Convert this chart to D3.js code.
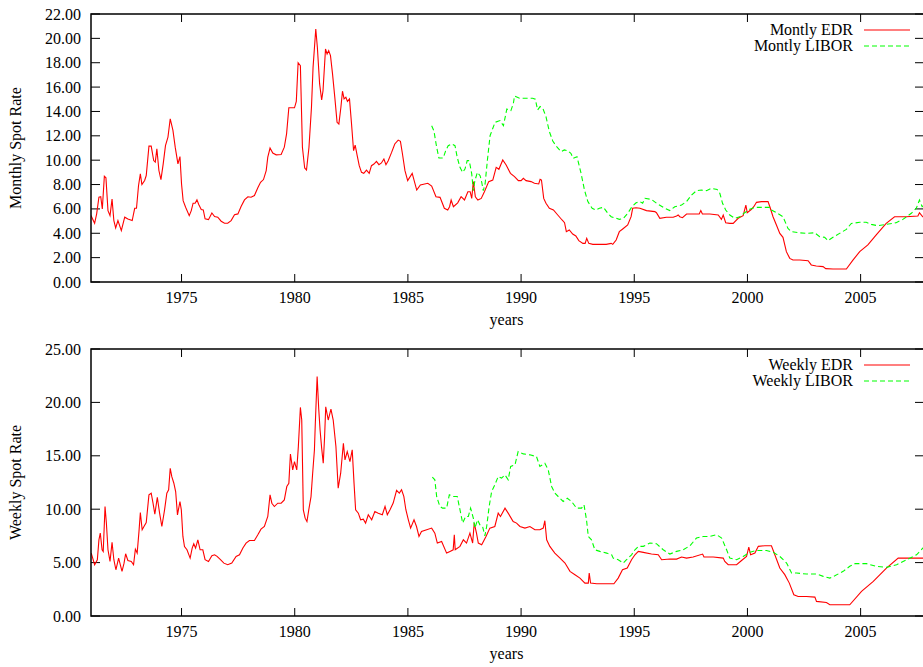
<!DOCTYPE html>
<html lang="en">
<head>
<meta charset="utf-8">
<title>Spot rates</title>
<script src="https://d3js.org/d3.v7.min.js"></script>
<style>
  body { margin: 0; background: #fff; }
  svg { display: block; }
  text { font-family: "Liberation Serif", "Times New Roman", serif; font-size: 16px; fill: #000; }
</style>
</head>
<body>
<script>
// ---- data: [year, rate] ----
var monthlyEDR = [
  [1971.00,5.45],[1971.16,4.82],[1971.25,5.6],[1971.35,6.96],[1971.43,7.0],[1971.50,6.0],[1971.59,8.68],[1971.66,8.55],
  [1971.75,5.86],[1971.84,5.45],[1971.93,6.8],[1972.01,5.04],[1972.09,4.44],[1972.19,5.04],[1972.34,4.22],[1972.49,5.32],
  [1972.63,5.18],[1972.82,5.04],[1972.93,6.05],[1973.01,6.05],[1973.10,7.92],[1973.18,8.88],[1973.25,8.0],[1973.37,8.33],
  [1973.44,8.74],[1973.56,11.15],[1973.66,11.15],[1973.77,9.97],[1973.84,9.84],[1973.91,10.93],[1974.00,9.15],[1974.09,8.41],
  [1974.19,9.70],[1974.29,11.2],[1974.40,11.9],[1974.50,13.4],[1974.62,12.44],[1974.72,11.07],[1974.84,9.7],[1974.93,10.3],
  [1975.00,8.05],[1975.07,6.68],[1975.18,6.14],[1975.34,5.45],[1975.43,5.86],[1975.51,6.47],[1975.60,6.47],[1975.68,6.74],
  [1975.76,6.36],[1975.87,5.95],[1975.96,5.92],[1976.04,5.18],[1976.19,5.12],[1976.34,5.67],[1976.46,5.37],[1976.60,5.32],
  [1976.75,4.99],[1976.90,4.82],[1977.04,4.82],[1977.19,5.04],[1977.34,5.53],[1977.49,5.59],[1977.63,6.19],[1977.78,6.74],
  [1977.93,7.0],[1978.07,6.96],[1978.22,7.1],[1978.37,7.73],[1978.49,8.19],[1978.62,8.41],[1978.74,9.15],[1978.81,10.25],
  [1978.91,11.0],[1979.03,10.58],[1979.18,10.44],[1979.40,10.47],[1979.54,11.07],[1979.64,12.16],[1979.74,14.3],[1979.99,14.3],
  [1980.07,14.83],[1980.15,18.0],[1980.25,17.76],[1980.34,11.06],[1980.44,9.36],[1980.52,9.19],[1980.63,11.06],[1980.74,14.34],
  [1980.81,17.62],[1980.93,20.77],[1981.00,19.27],[1981.10,16.26],[1981.19,14.94],[1981.25,15.7],[1981.36,19.13],[1981.43,18.72],
  [1981.50,18.99],[1981.58,18.58],[1981.67,17.08],[1981.77,15.18],[1981.87,13.11],[1981.95,12.97],[1982.04,14.34],[1982.11,15.66],
  [1982.18,15.03],[1982.26,15.17],[1982.33,14.83],[1982.42,15.03],[1982.51,12.97],[1982.60,10.78],[1982.67,11.24],[1982.76,10.37],
  [1982.85,9.55],[1982.95,9.0],[1983.05,8.92],[1983.17,9.19],[1983.29,8.92],[1983.39,9.55],[1983.50,9.68],[1983.61,9.9],
  [1983.72,9.63],[1983.83,9.77],[1983.94,10.1],[1984.03,9.63],[1984.13,9.96],[1984.28,10.64],[1984.42,11.33],[1984.57,11.65],
  [1984.67,11.55],[1984.76,10.51],[1984.87,9.14],[1984.99,8.32],[1985.19,8.92],[1985.39,7.55],[1985.55,7.96],[1985.88,8.1],
  [1986.05,7.88],[1986.24,7.0],[1986.42,6.95],[1986.61,6.05],[1986.76,5.91],[1986.84,6.18],[1986.91,6.73],[1987.01,6.18],
  [1987.20,6.5],[1987.35,7.0],[1987.50,6.73],[1987.65,7.41],[1987.75,7.41],[1987.82,6.86],[1987.89,8.24],[1987.98,7.0],
  [1988.09,6.73],[1988.24,6.86],[1988.38,7.41],[1988.57,8.24],[1988.75,8.37],[1988.90,9.41],[1989.02,9.25],[1989.19,10.02],
  [1989.34,9.6],[1989.53,8.92],[1989.71,8.65],[1989.88,8.32],[1990.00,8.32],[1990.10,8.51],[1990.22,8.32],[1990.44,8.24],
  [1990.59,8.1],[1990.78,8.05],[1990.84,8.43],[1990.90,8.37],[1991.00,6.86],[1991.10,6.46],[1991.25,6.05],[1991.43,5.91],
  [1991.62,5.5],[1991.81,5.09],[1991.92,4.87],[1992.00,4.13],[1992.13,4.27],[1992.28,3.94],[1992.42,3.78],[1992.55,3.4],
  [1992.73,3.17],[1992.83,3.17],[1992.90,3.58],[1992.99,3.17],[1993.17,3.09],[1993.47,3.09],[1993.76,3.09],[1993.98,3.17],
  [1994.05,3.09],[1994.20,3.45],[1994.34,4.13],[1994.49,4.35],[1994.71,4.68],[1994.86,5.36],[1994.93,6.05],[1995.08,6.1],
  [1995.25,6.05],[1995.54,5.86],[1995.91,5.78],[1995.98,5.69],[1996.13,5.23],[1996.42,5.31],[1996.72,5.31],[1996.87,5.42],
  [1996.94,5.5],[1997.01,5.36],[1997.13,5.28],[1997.31,5.58],[1997.60,5.58],[1997.87,5.58],[1997.94,5.86],[1998.01,5.58],
  [1998.34,5.58],[1998.71,5.5],[1998.85,5.14],[1998.93,5.5],[1999.04,4.87],[1999.22,4.81],[1999.37,4.81],[1999.59,5.23],
  [1999.81,5.44],[1999.93,6.32],[1999.99,5.69],[2000.18,5.97],[2000.28,6.18],[2000.40,6.54],[2000.62,6.6],[2000.91,6.6],
  [2000.99,6.18],[2001.13,5.36],[2001.28,4.68],[2001.43,3.99],[2001.57,3.67],[2001.72,2.49],[2001.87,1.94],[2002.01,1.8],
  [2002.31,1.8],[2002.68,1.75],[2002.82,1.4],[2003.04,1.31],[2003.34,1.26],[2003.46,1.1],[2003.78,1.07],[2004.07,1.07],
  [2004.37,1.07],[2004.66,1.8],[2004.96,2.49],[2005.32,3.04],[2005.69,3.86],[2006.13,4.81],[2006.50,5.36],[2007.01,5.36],
  [2007.53,5.42],[2007.60,5.69],[2007.74,5.36],[2007.90,5.36]
];

var monthlyLIBOR = [
  [1986.05,12.83],[1986.15,12.4],[1986.27,11.06],[1986.37,10.18],[1986.56,10.18],[1986.67,10.78],[1986.78,11.19],[1986.93,11.33],
  [1987.08,11.19],[1987.18,10.23],[1987.30,9.41],[1987.42,9.0],[1987.52,9.27],[1987.62,9.96],[1987.71,9.96],[1987.82,8.87],
  [1987.89,7.5],[1987.96,8.32],[1988.07,9.0],[1988.19,8.73],[1988.26,8.19],[1988.33,7.5],[1988.41,8.05],[1988.51,9.96],
  [1988.63,12.01],[1988.85,13.11],[1989.07,13.25],[1989.22,12.83],[1989.37,14.2],[1989.55,14.07],[1989.66,14.67],[1989.71,15.27],
  [1989.93,15.08],[1990.29,15.08],[1990.51,15.08],[1990.63,15.0],[1990.73,14.12],[1990.84,14.4],[1990.96,14.26],[1991.10,13.57],
  [1991.25,12.34],[1991.40,11.58],[1991.55,11.16],[1991.77,10.7],[1991.91,10.84],[1992.05,10.78],[1992.20,10.56],[1992.30,10.15],
  [1992.47,10.29],[1992.65,8.92],[1992.80,7.55],[1992.95,6.6],[1993.14,6.05],[1993.31,5.91],[1993.46,6.05],[1993.64,6.13],
  [1993.83,5.64],[1993.98,5.36],[1994.20,5.23],[1994.34,5.14],[1994.52,5.23],[1994.71,5.64],[1994.90,6.18],[1995.08,6.5],
  [1995.25,6.6],[1995.37,6.46],[1995.47,6.87],[1995.76,6.78],[1995.99,6.46],[1996.28,6.13],[1996.57,5.86],[1996.79,6.18],
  [1997.09,6.32],[1997.31,6.6],[1997.53,7.14],[1997.75,7.5],[1997.97,7.55],[1998.19,7.5],[1998.41,7.69],[1998.66,7.6],
  [1998.78,7.28],[1998.90,6.46],[1999.04,5.91],[1999.22,5.5],[1999.44,5.23],[1999.66,5.36],[1999.88,5.69],[2000.10,5.97],
  [2000.32,6.13],[2000.69,6.13],[2000.99,6.13],[2001.06,5.91],[2001.28,5.69],[2001.57,5.36],[2001.79,4.4],[2001.94,4.13],
  [2002.31,4.04],[2002.60,3.99],[2002.97,4.04],[2003.19,3.72],[2003.41,3.67],[2003.56,3.4],[2003.78,3.67],[2004.07,3.99],
  [2004.37,4.32],[2004.59,4.81],[2004.96,4.9],[2005.25,4.9],[2005.47,4.73],[2005.76,4.62],[2006.13,4.73],[2006.57,4.87],
  [2006.87,5.14],[2007.24,5.64],[2007.46,6.05],[2007.60,6.73],[2007.72,6.18],[2007.90,6.4]
];

var weeklyEDR = [
  [1971.01,5.89],[1971.16,4.8],[1971.28,5.27],[1971.35,7.13],[1971.41,7.76],[1971.49,6.2],[1971.54,6.04],[1971.62,10.25],
  [1971.68,8.69],[1971.75,6.2],[1971.84,5.11],[1971.93,6.89],[1972.01,5.27],[1972.10,4.33],[1972.22,5.42],[1972.37,4.18],
  [1972.46,4.95],[1972.53,5.83],[1972.63,5.2],[1972.78,5.11],[1972.88,4.8],[1972.96,6.26],[1973.04,5.89],[1973.12,7.92],
  [1973.18,9.69],[1973.26,8.07],[1973.34,8.38],[1973.44,8.75],[1973.56,11.34],[1973.66,11.5],[1973.74,10.56],[1973.82,9.53],
  [1973.93,11.12],[1974.03,9.63],[1974.13,8.38],[1974.25,9.94],[1974.35,11.5],[1974.43,11.81],[1974.50,13.83],[1974.57,13.05],
  [1974.66,12.43],[1974.74,11.65],[1974.82,9.47],[1974.93,10.72],[1974.99,9.94],[1975.06,7.45],[1975.13,6.51],[1975.24,6.2],
  [1975.38,5.42],[1975.47,6.36],[1975.54,6.76],[1975.62,6.36],[1975.72,7.13],[1975.82,6.2],[1975.94,6.2],[1976.04,5.27],
  [1976.19,5.11],[1976.34,5.64],[1976.46,5.73],[1976.57,5.58],[1976.72,5.27],[1976.87,4.95],[1977.04,4.8],[1977.22,4.95],
  [1977.41,5.58],[1977.56,5.73],[1977.71,6.36],[1977.85,6.82],[1978.00,7.07],[1978.22,7.07],[1978.37,7.6],[1978.51,8.13],
  [1978.66,8.38],[1978.81,9.32],[1978.91,11.34],[1978.99,10.56],[1979.10,10.25],[1979.25,10.56],[1979.40,10.56],[1979.54,10.87],
  [1979.65,12.12],[1979.74,12.43],[1979.81,15.17],[1979.91,13.68],[1979.99,14.45],[1980.09,13.68],[1980.16,15.86],[1980.25,19.53],
  [1980.31,18.35],[1980.38,9.94],[1980.46,9.16],[1980.54,8.85],[1980.62,9.94],[1980.72,11.18],[1980.79,13.3],[1980.87,15.55],
  [1980.91,18.04],[1980.99,22.43],[1981.06,19.4],[1981.12,17.41],[1981.19,15.72],[1981.26,14.3],[1981.32,16.79],[1981.37,19.58],
  [1981.48,18.35],[1981.60,19.36],[1981.70,18.35],[1981.82,15.87],[1981.92,11.97],[1982.03,13.37],[1982.15,16.18],[1982.22,14.62],
  [1982.32,15.4],[1982.44,14.46],[1982.54,15.56],[1982.62,12.44],[1982.69,9.95],[1982.81,9.63],[1982.91,9.01],[1983.03,9.07],
  [1983.13,8.7],[1983.25,9.48],[1983.40,9.01],[1983.54,9.79],[1983.69,9.63],[1983.87,9.48],[1983.99,10.26],[1984.09,9.48],
  [1984.21,9.95],[1984.35,10.57],[1984.50,11.76],[1984.62,11.51],[1984.72,11.82],[1984.82,11.2],[1984.91,9.95],[1985.02,9.01],
  [1985.12,8.23],[1985.27,9.01],[1985.38,8.38],[1985.49,7.45],[1985.60,7.91],[1985.83,8.07],[1986.05,8.23],[1986.19,7.76],
  [1986.30,6.83],[1986.49,6.98],[1986.71,5.89],[1986.86,6.05],[1987.00,6.2],[1987.05,7.61],[1987.09,6.2],[1987.30,6.52],
  [1987.45,7.14],[1987.59,6.83],[1987.74,7.76],[1987.86,6.83],[1987.93,8.7],[1988.03,7.76],[1988.11,6.83],[1988.26,6.67],
  [1988.45,7.45],[1988.62,8.23],[1988.84,8.38],[1988.99,9.63],[1989.09,9.32],[1989.29,10.1],[1989.43,9.63],[1989.65,8.85],
  [1989.80,8.7],[1989.95,8.38],[1990.17,8.23],[1990.39,8.38],[1990.61,8.07],[1990.83,8.07],[1990.98,8.23],[1991.05,8.92],
  [1991.13,7.14],[1991.27,6.52],[1991.49,5.89],[1991.72,5.42],[1991.94,4.96],[1992.16,4.18],[1992.38,3.87],[1992.60,3.55],
  [1992.82,3.08],[1992.97,3.08],[1993.01,4.02],[1993.07,3.08],[1993.34,3.02],[1993.78,3.02],[1994.10,3.02],[1994.29,3.55],
  [1994.48,4.33],[1994.69,4.49],[1994.88,5.27],[1995.03,5.73],[1995.18,6.05],[1995.40,5.96],[1995.76,5.8],[1996.06,5.73],
  [1996.21,5.27],[1996.57,5.33],[1996.87,5.33],[1997.09,5.52],[1997.31,5.42],[1997.60,5.52],[1998.02,5.8],[1998.08,5.52],
  [1998.49,5.52],[1998.93,5.42],[1999.00,5.11],[1999.15,4.8],[1999.52,4.8],[1999.74,5.2],[1999.96,5.58],[2000.06,6.46],
  [2000.14,5.73],[2000.33,5.89],[2000.48,6.52],[2000.77,6.58],[2001.06,6.58],[2001.21,5.73],[2001.43,4.49],[2001.65,3.87],
  [2001.85,3.08],[2002.05,1.99],[2002.24,1.83],[2002.61,1.83],[2002.98,1.77],[2003.05,1.37],[2003.49,1.27],[2003.64,1.05],
  [2004.08,1.05],[2004.52,1.05],[2005.04,2.3],[2005.56,3.24],[2006.14,4.49],[2006.66,5.42],[2007.17,5.42],[2007.75,5.42],
  [2007.90,5.45]
];

var weeklyLIBOR = [
  [1986.08,13.0],[1986.19,12.75],[1986.27,11.19],[1986.41,10.26],[1986.53,10.1],[1986.71,10.1],[1986.83,11.35],[1987.00,11.19],
  [1987.18,11.19],[1987.30,9.95],[1987.42,8.7],[1987.55,9.32],[1987.67,9.32],[1987.77,10.1],[1987.89,9.17],[1987.96,8.23],
  [1988.08,9.01],[1988.18,8.54],[1988.30,8.38],[1988.40,7.51],[1988.48,8.38],[1988.59,10.26],[1988.70,11.66],[1988.84,12.28],
  [1988.99,13.06],[1989.14,12.91],[1989.29,13.21],[1989.43,12.75],[1989.54,14.0],[1989.73,14.15],[1989.87,15.4],[1990.10,15.18],
  [1990.39,15.09],[1990.68,14.93],[1990.83,14.0],[1991.05,14.3],[1991.20,13.68],[1991.35,12.13],[1991.49,11.51],[1991.64,11.19],
  [1991.86,10.72],[1992.04,11.03],[1992.23,10.72],[1992.45,10.1],[1992.67,10.1],[1992.78,10.41],[1992.89,9.01],[1992.97,7.45],
  [1993.11,7.14],[1993.26,6.2],[1993.48,6.05],[1993.78,5.89],[1994.00,5.73],[1994.07,5.42],[1994.29,5.27],[1994.51,4.96],
  [1994.66,5.27],[1994.88,5.73],[1995.03,6.2],[1995.18,6.52],[1995.40,6.52],[1995.69,6.83],[1995.98,6.77],[1996.28,6.2],
  [1996.57,5.8],[1996.87,6.05],[1997.16,6.2],[1997.46,6.58],[1997.75,7.3],[1998.05,7.45],[1998.34,7.45],[1998.64,7.61],
  [1998.86,7.3],[1999.08,6.2],[1999.22,5.42],[1999.52,5.27],[1999.81,5.58],[2000.11,5.96],[2000.40,6.14],[2000.84,6.14],
  [2001.14,5.96],[2001.43,5.58],[2001.73,4.96],[2001.95,4.02],[2002.17,4.02],[2002.61,3.93],[2003.05,3.93],[2003.35,3.71],
  [2003.64,3.55],[2003.86,3.77],[2004.23,4.18],[2004.52,4.65],[2004.75,4.9],[2005.26,4.9],[2005.70,4.65],[2006.14,4.55],
  [2006.59,4.8],[2007.03,5.27],[2007.47,5.73],[2007.75,6.36],[2007.90,6.5]
];

var yearTicks = [1975, 1980, 1985, 1990, 1995, 2000, 2005];
var monthlyTicks = [0, 2, 4, 6, 8, 10, 12, 14, 16, 18, 20, 22];
var weeklyTicks = [0, 5, 10, 15, 20, 25];
var yearRange = [1971, 2007.8];

var W = 923, H = 667;
var svg = d3.select("body").append("svg")
  .attr("width", W).attr("height", H);

var x = d3.scaleLinear().domain(yearRange).range([91, 924]);

var panels = [
  { top: 14, bottom: 282, ticks: monthlyTicks, ylabel: "Monthly Spot Rate",
    series: [monthlyEDR, monthlyLIBOR], names: ["Montly EDR", "Montly LIBOR"], id: "m" },
  { top: 349, bottom: 616, ticks: weeklyTicks, ylabel: "Weekly Spot Rate",
    series: [weeklyEDR, weeklyLIBOR], names: ["Weekly EDR", "Weekly LIBOR"], id: "w" }
];

var colors = ["#ff0000", "#00ff00"];
var dashes = [null, "5,3"];

panels.forEach(function (p) {
  var y = d3.scaleLinear()
    .domain([0, d3.max(p.ticks)])
    .range([p.bottom, p.top]);
  var g = svg.append("g");
  var left = x.range()[0], right = x.range()[1];

  g.append("clipPath").attr("id", "clip-" + p.id)
    .append("rect")
      .attr("x", left).attr("y", p.top)
      .attr("width", right - left).attr("height", p.bottom - p.top);

  // y ticks (inward, mirrored on the right)
  var yt = g.selectAll(".yt").data(p.ticks).enter();
  yt.append("line")
      .attr("x1", left).attr("x2", left + 9)
      .attr("y1", d => y(d)).attr("y2", d => y(d))
      .attr("stroke", "#000").attr("stroke-width", 1);
  yt.append("line")
      .attr("x1", right - 9).attr("x2", right)
      .attr("y1", d => y(d)).attr("y2", d => y(d))
      .attr("stroke", "#000").attr("stroke-width", 1);
  yt.append("text")
      .attr("x", left - 10).attr("y", d => y(d) + 5.5)
      .attr("text-anchor", "end")
      .text(d => d3.format(".2f")(d));

  // x ticks
  var xt = g.selectAll(".xt").data(yearTicks).enter();
  xt.append("line")
      .attr("x1", d => x(d)).attr("x2", d => x(d))
      .attr("y1", p.bottom).attr("y2", p.bottom - 8)
      .attr("stroke", "#000").attr("stroke-width", 1);
  xt.append("line")
      .attr("x1", d => x(d)).attr("x2", d => x(d))
      .attr("y1", p.top).attr("y2", p.top + 8)
      .attr("stroke", "#000").attr("stroke-width", 1);
  xt.append("text")
      .attr("x", d => x(d)).attr("y", p.bottom + 21)
      .attr("text-anchor", "middle")
      .text(d => d);

  // lines
  var line = d3.line().x(d => x(d[0])).y(d => y(d[1]));
  p.series.forEach(function (s, i) {
    g.append("path")
      .datum(s)
      .attr("clip-path", "url(#clip-" + p.id + ")")
      .attr("fill", "none")
      .attr("stroke", colors[i])
      .attr("stroke-width", 1.1)
      .attr("stroke-dasharray", dashes[i])
      .attr("d", line);
  });

  // frame
  g.append("rect")
    .attr("x", left).attr("y", p.top)
    .attr("width", right - left).attr("height", p.bottom - p.top)
    .attr("fill", "none").attr("stroke", "#000").attr("stroke-width", 1.5);

  // labels
  g.append("text")
    .attr("x", (left + right) / 2 - 1).attr("y", p.bottom + 43)
    .attr("text-anchor", "middle")
    .text("years");
  g.append("text")
    .attr("transform", "translate(21," + (p.top + p.bottom) / 2 + ") rotate(-90)")
    .attr("text-anchor", "middle")
    .text(p.ylabel);

  // key
  p.names.forEach(function (n, i) {
    var ky = p.top + 16 + i * 16;
    g.append("text")
      .attr("x", 853).attr("y", ky + 5)
      .attr("text-anchor", "end")
      .text(n);
    g.append("line")
      .attr("x1", 864).attr("x2", 910)
      .attr("y1", ky).attr("y2", ky)
      .attr("stroke", colors[i]).attr("stroke-width", 1.1)
      .attr("stroke-dasharray", dashes[i]);
  });
});
</script>
</body>
</html>
